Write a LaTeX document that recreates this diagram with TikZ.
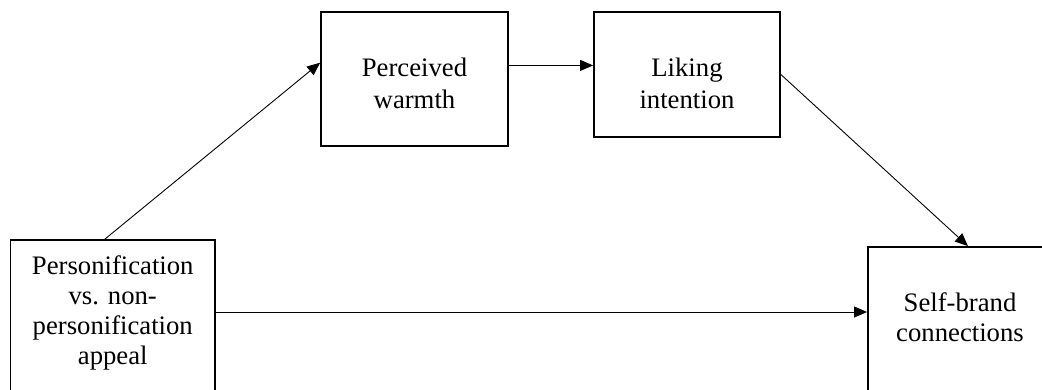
\documentclass[tikz,border=0pt]{standalone}
\usepackage{fontspec}
\setmainfont{Liberation Serif}
\usetikzlibrary{arrows.meta,calc}
\begin{document}
\begin{tikzpicture}[x=1pt,y=-1pt,
  box/.style={draw, line width=1.8pt, inner sep=0pt},
  lbl/.style={font=\fontsize{26.7}{30}\selectfont, align=center, inner sep=0pt},
  lblw/.style={lbl, font=\fontsize{26.7}{32}\selectfont},
  link/.style={line width=0.9pt, -{Triangle[length=13pt,width=11pt]}}]
\useasboundingbox (0,0) rectangle (1042,389);
\clip (0,0) rectangle (1042,389);

% boxes (the two lower ones run past the bottom edge)
\node[box, minimum width=204.5pt, minimum height=160pt] (src) at (112.75,320) {};
\node[box, minimum width=187pt, minimum height=134pt] (warmth) at (414.5,79) {};
\node[box, minimum width=186pt, minimum height=125pt] (liking) at (687,74.5) {};
\node[box, minimum width=184pt, minimum height=153pt] (sbc) at (960,323.5) {};

% box texts
\node[lbl] (srct) at (112.75,313.3) {Personification\\vs. non-\\personification\\appeal};
\node[lblw] (warmtht) at (414.5,83) {Perceived\\warmth};
\node[lblw] (likingt) at (687,83.5) {Liking\\intention};
\node[lbl] (sbct) at (960,317.6) {Self-brand\\connections};

% paths
\draw[link] ($(src.north west)!0.462!(src.north east)$) -- ($(warmth.north west)!0.38!(warmth.south west)$);
\coordinate (wa) at ($(warmth.north east)!0.4!(warmth.south east)$);
\draw[link] (wa) -- (wa -| liking.west);
\draw[link] (liking.east) -- ($(sbc.north west)!0.543!(sbc.north east)$);
\coordinate (hy) at (0,312);
\draw[link] (src.east |- hy) -- (sbc.west |- hy);
\end{tikzpicture}
\end{document}
